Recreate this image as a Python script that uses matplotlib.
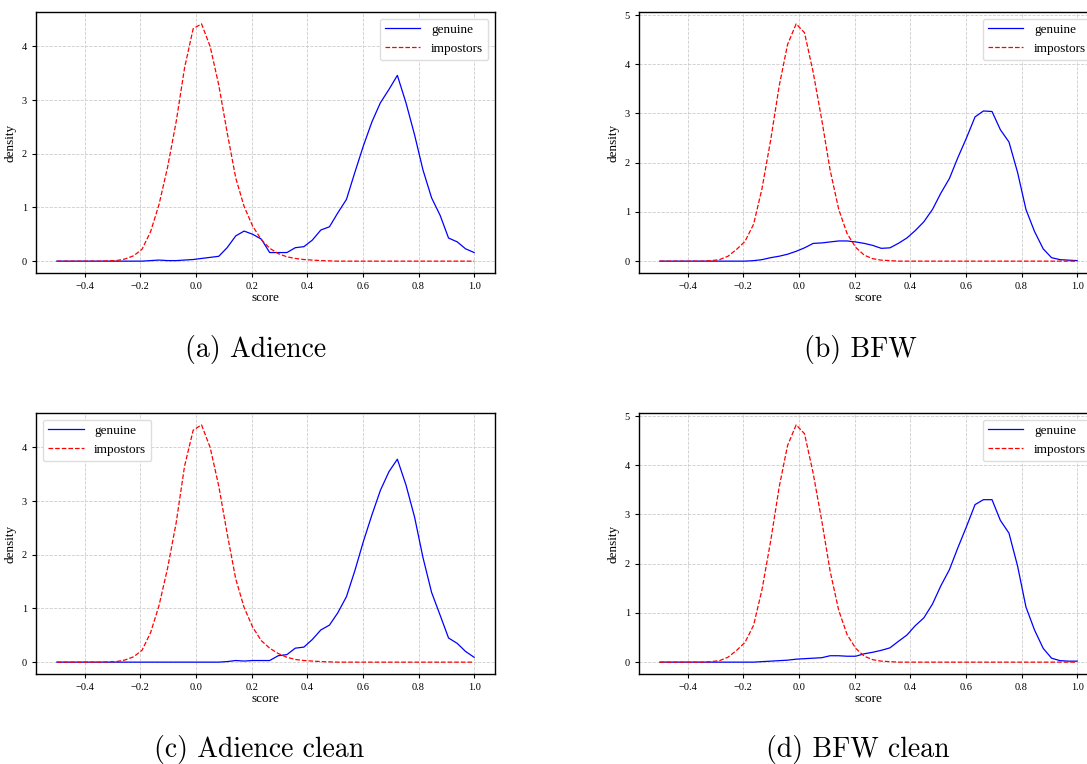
import matplotlib
matplotlib.use("Agg")
import matplotlib.pyplot as plt

# score bins (50 points from -0.5 to 1.0)
score = [-0.500, -0.469, -0.439, -0.408, -0.378, -0.347, -0.316, -0.286, -0.255, -0.224,
         -0.194, -0.163, -0.133, -0.102, -0.071, -0.041, -0.010, 0.020, 0.051, 0.082,
         0.112, 0.143, 0.173, 0.204, 0.235, 0.265, 0.296, 0.327, 0.357, 0.388,
         0.418, 0.449, 0.480, 0.510, 0.541, 0.571, 0.602, 0.633, 0.663, 0.694,
         0.724, 0.755, 0.786, 0.816, 0.847, 0.878, 0.908, 0.939, 0.969, 1.000]

adience_gen = [0, 0, 0, 0, 0, 0, 0, 0, 0, 0,
               0, 0.01, 0.02, 0.01, 0.01, 0.02, 0.03, 0.05, 0.07, 0.09,
               0.25, 0.47, 0.56, 0.50, 0.41, 0.16, 0.16, 0.16, 0.25, 0.27,
               0.39, 0.58, 0.64, 0.90, 1.15, 1.65, 2.15, 2.60, 2.95, 3.20,
               3.46, 2.95, 2.35, 1.70, 1.18, 0.85, 0.43, 0.36, 0.23, 0.16]
adience_imp = [0, 0, 0, 0, 0, 0, 0.005, 0.01, 0.04, 0.10,
               0.22, 0.55, 1.05, 1.75, 2.60, 3.60, 4.33, 4.42, 4.00, 3.28,
               2.40, 1.55, 1.02, 0.65, 0.40, 0.24, 0.14, 0.08, 0.05, 0.03,
               0.02, 0.01, 0.005, 0, 0, 0, 0, 0, 0, 0,
               0, 0, 0, 0, 0, 0, 0, 0, 0, 0]

bfw_gen = [0, 0, 0, 0, 0, 0, 0, 0, 0, 0,
           0, 0.01, 0.03, 0.07, 0.10, 0.14, 0.20, 0.27, 0.36, 0.37,
           0.39, 0.41, 0.41, 0.39, 0.36, 0.32, 0.26, 0.27, 0.36, 0.47,
           0.62, 0.80, 1.05, 1.38, 1.68, 2.10, 2.50, 2.93, 3.05, 3.04,
           2.67, 2.42, 1.80, 1.05, 0.60, 0.25, 0.07, 0.03, 0.02, 0.01]
bfw_imp = [0, 0, 0, 0, 0, 0, 0.01, 0.03, 0.10, 0.24,
           0.40, 0.75, 1.47, 2.45, 3.56, 4.40, 4.82, 4.64, 3.84, 2.87,
           1.85, 1.05, 0.56, 0.28, 0.12, 0.05, 0.02, 0.01, 0, 0,
           0, 0, 0, 0, 0, 0, 0, 0, 0, 0,
           0, 0, 0, 0, 0, 0, 0, 0, 0, 0]

adience_clean_gen = [0, 0, 0, 0, 0, 0, 0, 0, 0, 0,
                     0, 0, 0, 0, 0, 0, 0, 0, 0, 0,
                     0.01, 0.03, 0.02, 0.03, 0.03, 0.03, 0.12, 0.14, 0.26, 0.28,
                     0.42, 0.60, 0.69, 0.92, 1.22, 1.70, 2.25, 2.75, 3.20, 3.55,
                     3.78, 3.30, 2.70, 1.95, 1.30, 0.87, 0.45, 0.35, 0.20, 0.09]
adience_clean_imp = [0, 0, 0, 0, 0, 0, 0.005, 0.01, 0.04, 0.10,
                     0.22, 0.55, 1.05, 1.75, 2.60, 3.65, 4.32, 4.42, 4.00, 3.28,
                     2.40, 1.55, 1.02, 0.65, 0.40, 0.26, 0.16, 0.09, 0.05, 0.03,
                     0.02, 0.01, 0.005, 0, 0, 0, 0, 0, 0, 0,
                     0, 0, 0, 0, 0, 0, 0, 0, 0, 0]

bfw_clean_gen = [0, 0, 0, 0, 0, 0, 0, 0, 0, 0,
                 0, 0, 0.01, 0.02, 0.03, 0.04, 0.06, 0.07, 0.08, 0.09,
                 0.13, 0.13, 0.12, 0.12, 0.17, 0.20, 0.24, 0.29, 0.42, 0.55,
                 0.74, 0.90, 1.18, 1.55, 1.88, 2.32, 2.75, 3.20, 3.30, 3.30,
                 2.88, 2.62, 1.95, 1.12, 0.65, 0.28, 0.08, 0.03, 0.02, 0.02]
bfw_clean_imp = [0, 0, 0, 0, 0, 0, 0.01, 0.03, 0.10, 0.24,
                 0.40, 0.75, 1.47, 2.45, 3.56, 4.40, 4.82, 4.64, 3.84, 2.87,
                 1.85, 1.05, 0.56, 0.28, 0.12, 0.05, 0.02, 0.01, 0, 0,
                 0, 0, 0, 0, 0, 0, 0, 0, 0, 0,
                 0, 0, 0, 0, 0, 0, 0, 0, 0, 0]

panels = [
    ("(a) Adience", adience_gen, adience_imp, "upper right"),
    ("(b) BFW", bfw_gen, bfw_imp, "upper right"),
    ("(c) Adience clean", adience_clean_gen, adience_clean_imp, "upper left"),
    ("(d) BFW clean", bfw_clean_gen, bfw_clean_imp, "upper right"),
]

W, H = 1087, 764
fig = plt.figure(figsize=(W / 100, H / 100), dpi=100)
plt.rcParams['font.family'] = ['Liberation Serif', 'DejaVu Serif']

# axes boxes in pixels: left, top, width, height
boxes = [(36, 12, 459, 261), (639, 12, 459, 261),
         (36, 413, 459, 261), (639, 413, 459, 261)]
captions = [(256, 349), (860, 349), (259, 749), (858, 749)]

for (cap, gen, imp, loc), (l, t, w, h), (cx, cy) in zip(panels, boxes, captions):
    ax = fig.add_axes([l / W, 1 - (t + h) / H, w / W, h / H])
    ax.plot(score, gen, color='blue', lw=0.9, label='genuine')
    ax.plot(score, imp, color='red', lw=0.9, ls='--', label='impostors')
    ax.grid(True, ls='--', color='#cccccc', lw=0.6)
    ax.set_axisbelow(True)
    ax.tick_params(labelsize=7.5, length=3, width=0.8)
    ax.set_xticks([-0.4, -0.2, 0.0, 0.2, 0.4, 0.6, 0.8, 1.0])
    ax.set_xlabel('score', fontsize=9.5, labelpad=1)
    ax.set_ylabel('density', fontsize=9.5, labelpad=4)
    for s in ax.spines.values():
        s.set_linewidth(1.0)
    ax.legend(loc=loc, fontsize=9.5, handlelength=2.7, framealpha=1,
              edgecolor='#dddddd')
    fig.text(cx / W, 1 - cy / H, cap, ha='center', va='center',
             fontsize=20, family='cmr10')

fig.savefig('out.png', dpi=100)
